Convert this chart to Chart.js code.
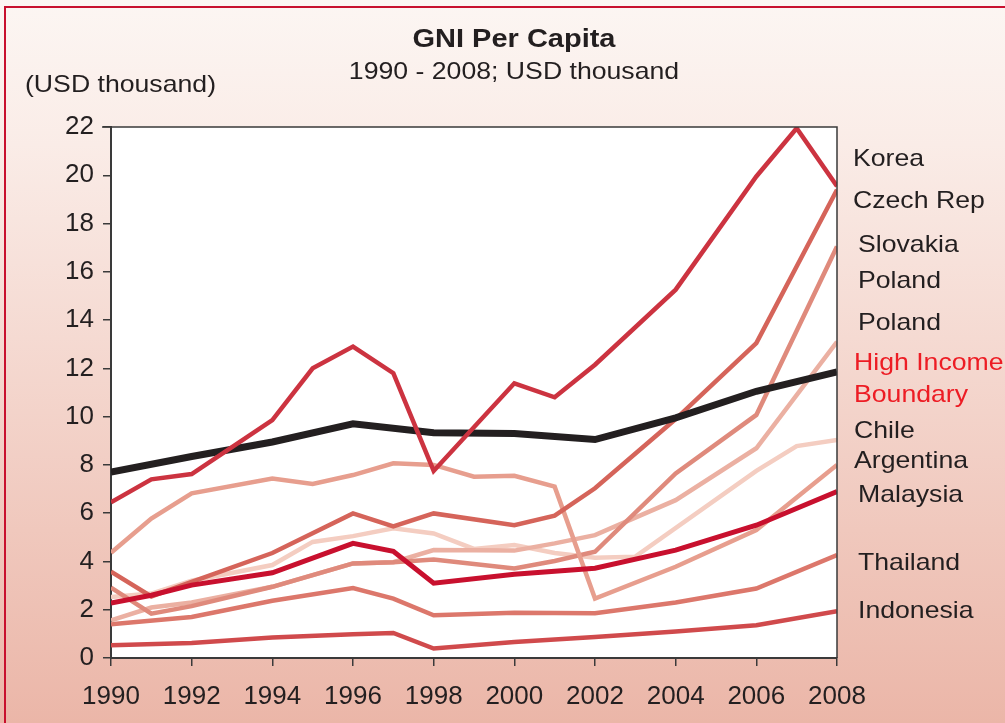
<!DOCTYPE html>
<html>
<head>
<meta charset="utf-8">
<title>GNI Per Capita</title>
<script src="https://cdn.jsdelivr.net/npm/chart.js@4.4.0/dist/chart.umd.min.js"></script>
<style>
    html, body { margin: 0; padding: 0; background: #f6dcd4; }
    #wrap { width: 1005px; height: 723px; position: relative; }
</style>
</head>
<body>
<div id="wrap"><canvas id="gni" width="1005" height="723"></canvas></div>
<script>
// years with a point in at least one series (null = no point for that series)
const years = [1990, 1991, 1992, 1994, 1995, 1996, 1997, 1998, 1999, 2000, 2001, 2002, 2003, 2004, 2006, 2007, 2008];

const korea     = [6.45, 7.4, 7.62, 9.86, 12.0, 12.9, 11.8, 7.75, null, 11.38, 10.8, 12.15, null, 15.26, 19.95, 21.95, 19.55];
const highIncome = [7.7, null, 8.35, 8.95, null, 9.7, null, 9.33, null, 9.3, null, 9.05, null, 9.95, 11.05, null, 11.85];
const czechRep  = [3.58, 2.55, 3.15, 4.35, null, 5.99, 5.45, 5.99, null, 5.5, 5.9, 7.03, null, 9.9, 13.05, null, 19.4];
const slovakia  = [2.92, 1.84, 2.15, 2.95, 3.43, 3.92, 3.97, 4.08, null, 3.71, 4.02, 4.4, null, 7.65, 10.07, null, 17.05];
const poland    = [1.56, 2.09, 2.3, 2.95, 3.43, 3.92, 3.97, 4.47, null, 4.45, 4.75, 5.09, null, 6.54, 8.69, null, 13.1];
const chile     = [2.53, 2.67, 3.2, 3.85, 4.81, 5.05, 5.37, 5.16, 4.52, 4.68, 4.35, 4.15, 4.2, null, 7.75, 8.78, 9.03];
const argentina = [4.36, 5.78, 6.82, 7.44, 7.21, 7.58, 8.07, 8.0, 7.51, 7.55, 7.1, 2.46, null, 3.78, 5.3, null, 8.0];
const malaysia  = [2.28, 2.6, 3.02, 3.53, null, 4.75, 4.42, 3.1, null, 3.47, null, 3.72, null, 4.47, 5.5, null, 6.9];
const thailand  = [1.4, null, 1.7, 2.37, null, 2.9, 2.46, 1.77, null, 1.87, null, 1.85, null, 2.3, 2.88, null, 4.26];
const indonesia = [0.53, null, 0.62, 0.85, null, 0.98, 1.04, 0.39, null, 0.66, null, 0.87, null, 1.1, 1.36, null, 1.94];

const yearTicks = [1990, 1992, 1994, 1996, 1998, 2000, 2002, 2004, 2006, 2008];
const valueTicks = [0, 2, 4, 6, 8, 10, 12, 14, 16, 18, 20, 22];

// labels on the right, with their text baseline
const sideLabels = [
    { text: 'Korea', x: 853, y: 166, color: '#231f20' },
    { text: 'Czech Rep', x: 853, y: 208, color: '#231f20' },
    { text: 'Slovakia', x: 858, y: 252, color: '#231f20' },
    { text: 'Poland', x: 858, y: 288, color: '#231f20' },
    { text: 'Poland', x: 858, y: 330, color: '#231f20' },
    { text: 'High Income', x: 854, y: 370, color: '#ed1c24' },
    { text: 'Boundary', x: 854, y: 402, color: '#ed1c24' },
    { text: 'Chile', x: 854, y: 438, color: '#231f20' },
    { text: 'Argentina', x: 854, y: 468, color: '#231f20' },
    { text: 'Malaysia', x: 858, y: 502, color: '#231f20' },
    { text: 'Thailand', x: 858, y: 570, color: '#231f20' },
    { text: 'Indonesia', x: 858, y: 618, color: '#231f20' }
];

const FONT = '"Liberation Sans", Arial, sans-serif';
const STRETCH = 1.11; // the original lettering is a bit wider than Arial

function toPoints(values) {
    return years.map((yr, i) => ({ x: yr, y: values[i] }));
}

function line(label, values, color, width) {
    return {
        label: label,
        data: toPoints(values),
        borderColor: color,
        backgroundColor: color,
        borderWidth: width,
        pointRadius: 0,
        tension: 0,
        spanGaps: true,
        borderJoinStyle: 'miter',
        borderCapStyle: 'butt'
    };
}

function wideText(ctx, text, x, y, sx) {
    ctx.save();
    ctx.translate(x, y);
    ctx.scale(sx, 1);
    ctx.fillText(text, 0, 0);
    ctx.restore();
}

const framePlugin = {
    id: 'frame',
    beforeDraw(chart) {
        const ctx = chart.ctx;
        const a = chart.chartArea;
        ctx.save();
        const grad = ctx.createLinearGradient(0, 0, 0, chart.height);
        grad.addColorStop(0, '#fcf6f3');
        grad.addColorStop(0.2, '#faece7');
        grad.addColorStop(1, '#ebb6a8');
        ctx.fillStyle = grad;
        ctx.fillRect(0, 0, chart.width, chart.height);

        ctx.strokeStyle = '#c8102e';
        ctx.lineWidth = 2;
        ctx.strokeRect(5, 7, chart.width + 10, chart.height + 10);

        ctx.fillStyle = '#ffffff';
        ctx.fillRect(a.left, a.top, a.right - a.left, a.bottom - a.top);
        ctx.restore();
    },
    afterDraw(chart) {
        const ctx = chart.ctx;
        const a = chart.chartArea;
        ctx.save();
        ctx.strokeStyle = '#3a3a3a';
        ctx.lineWidth = 1.5;
        ctx.beginPath();
        ctx.moveTo(a.left - 9, a.top);
        ctx.lineTo(a.right, a.top);
        ctx.lineTo(a.right, a.bottom);
        ctx.stroke();

        ctx.fillStyle = '#231f20';
        ctx.textAlign = 'center';
        ctx.textBaseline = 'alphabetic';
        ctx.font = 'bold 26px ' + FONT;
        wideText(ctx, 'GNI Per Capita', 514, 47, 1.115);
        ctx.font = '24px ' + FONT;
        wideText(ctx, '1990 - 2008; USD thousand', 514, 79, STRETCH);
        ctx.textAlign = 'left';
        wideText(ctx, '(USD thousand)', 25, 92, STRETCH);

        sideLabels.forEach(l => {
            ctx.fillStyle = l.color;
            wideText(ctx, l.text, l.x, l.y, STRETCH);
        });
        ctx.restore();
    }
};

const ctx = document.getElementById('gni').getContext('2d');
const gniChart = new Chart(ctx, {
    type: 'line',
    data: {
        datasets: [
            line('Korea', korea, '#cc3340', 4.5),
            line('High Income Boundary', highIncome, '#231f20', 7),
            line('Malaysia', malaysia, '#c8102e', 5),
            line('Czech Rep', czechRep, '#d5645a', 4.5),
            line('Argentina', argentina, '#e79e8e', 4.5),
            line('Slovakia', slovakia, '#df8a7c', 4.5),
            line('Poland', poland, '#ebb0a2', 4.5),
            line('Chile', chile, '#f4cdc1', 4.5),
            line('Thailand', thailand, '#dc776b', 4.5),
            line('Indonesia', indonesia, '#d04a4c', 4.5)
        ]
    },
    options: {
        responsive: false,
        animation: false,
        layout: {
            padding: { left: 41, top: 127, right: 168, bottom: 15 }
        },
        plugins: {
            legend: { display: false },
            tooltip: { enabled: false }
        },
        scales: {
            x: {
                type: 'linear',
                min: 1990,
                max: 2008,
                afterFit: scale => { scale.height = 50; },
                afterBuildTicks: scale => { scale.ticks = yearTicks.map(v => ({ value: v })); },
                grid: { drawOnChartArea: false, drawTicks: true, tickLength: 8, color: '#3a3a3a', lineWidth: 1.5 },
                border: { display: true, color: '#3a3a3a', width: 2 },
                ticks: {
                    color: '#231f20',
                    font: { family: FONT, size: 26 },
                    padding: 15,
                    maxRotation: 0,
                    callback: v => String(v)
                }
            },
            y: {
                min: 0,
                max: 22,
                afterFit: scale => { scale.width = 70; },
                afterBuildTicks: scale => { scale.ticks = valueTicks.map(v => ({ value: v })); },
                grid: { drawOnChartArea: false, drawTicks: true, tickLength: 8, color: '#3a3a3a', lineWidth: 1.5 },
                border: { display: true, color: '#3a3a3a', width: 2 },
                ticks: {
                    color: '#231f20',
                    font: { family: FONT, size: 26 },
                    padding: 9
                }
            }
        }
    },
    plugins: [framePlugin]
});
</script>
</body>
</html>
